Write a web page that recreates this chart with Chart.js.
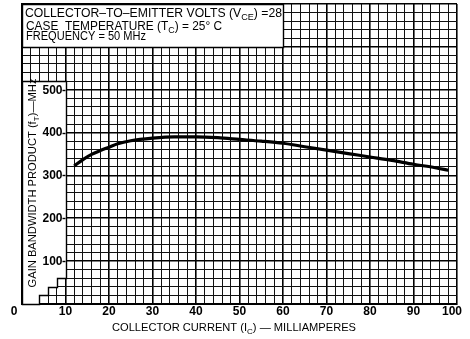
<!DOCTYPE html>
<html><head><meta charset="utf-8">
<script src="https://cdn.jsdelivr.net/npm/chart.js@4/dist/chart.umd.min.js"></script>
<style>html,body{margin:0;padding:0;background:#fff}#wrap{width:470px;height:339px;position:relative}</style>
</head><body><div id="wrap"><canvas id="c"></canvas></div>
<script>
// ---- data ----
const currentMA = [12, 14, 16, 18, 20, 22, 25, 30, 35, 40, 45, 50, 55, 60, 65, 70, 75, 80, 85, 90, 95, 98];
const gainMHz   = [322, 337, 349, 358, 366, 374, 381, 387, 390, 390, 388, 384, 380, 375, 367, 359, 351, 343, 335, 326, 318, 312];
const xTickLabels = ['0', '10', '20', '30', '40', '50', '60', '70', '80', '90', '100'];
const yTickLabels = ['100', '200', '300', '400', '500'];
const boxLines = [
  [{t: 'COLLECTOR–TO–EMITTER VOLTS (V'}, {t: 'CE', sub: true}, {t: ') =28'}],
  [{t: 'CASE  TEMPERATURE (T'}, {t: 'C', sub: true}, {t: ') = 25° C'}],
  [{t: 'FREQUENCY = 50 MHz'}]
];
const xTitle = [{t: 'COLLECTOR CURRENT (I'}, {t: 'C', sub: true}, {t: ') — MILLIAMPERES'}];
const yTitle = [{t: 'GAIN BANDWIDTH PRODUCT (f'}, {t: 'T', sub: true}, {t: ')—MHz'}];

const FONT = "'Liberation Sans', Arial, sans-serif";

function richWidth(ctx, segs, size, weight) {
  let w = 0;
  for (const s of segs) {
    ctx.font = `${weight} ${s.sub ? Math.round(size * 0.75) : size}px ${FONT}`;
    w += ctx.measureText(s.t).width;
  }
  return w;
}
function drawRich(ctx, segs, x, y, size, targetW, align, weight) {
  weight = weight || 'normal';
  const nat = richWidth(ctx, segs, size, weight);
  const sx = targetW ? targetW / nat : 1;
  const w = nat * sx;
  let start = x;
  if (align === 'center') start = x - w / 2;
  ctx.save();
  ctx.translate(start, y);
  ctx.scale(sx, 1);
  ctx.textAlign = 'left';
  ctx.textBaseline = 'alphabetic';
  ctx.fillStyle = '#000';
  let cx = 0;
  for (const s of segs) {
    const fs = s.sub ? Math.round(size * 0.75) : size;
    ctx.font = `${weight} ${fs}px ${FONT}`;
    ctx.fillText(s.t, cx, s.sub ? size * 0.28 : 0);
    cx += ctx.measureText(s.t).width;
  }
  ctx.restore();
}

const decor = {
  id: 'decor',
  beforeDatasetsDraw(chart) {
    const {ctx, scales: {x, y}} = chart;
    const poly = (pts) => {
      ctx.beginPath();
      pts.forEach(([a, b], i) => {
        const px = Math.round(x.getPixelForValue(a)) + 0.5, py = Math.round(y.getPixelForValue(b)) + 0.5;
        i ? ctx.lineTo(px, py) : ctx.moveTo(px, py);
      });
      ctx.closePath();
      ctx.fillStyle = '#fff';
      ctx.fill();
      ctx.strokeStyle = '#000';
      ctx.lineWidth = 1.4;
      ctx.stroke();
    };
    ctx.save();
    // text box (top-left)
    poly([[0, 600], [60, 600], [60, 700], [0, 700]]);
    // y-title strip with staircase
    poly([[0, 520], [10, 520], [10, 60], [8, 60], [8, 40], [6, 40], [6, 20], [4, 20], [4, 0], [0, 0]]);
    ctx.restore();
  },
  afterDraw(chart) {
    const {ctx, scales: {x, y}} = chart;
    ctx.save();
    // box text
    drawRich(ctx, boxLines[0], 25, 17, 12, 257, 'left');
    drawRich(ctx, boxLines[1], 26, 30, 12, 196, 'left');
    drawRich(ctx, boxLines[2], 26, 39.5, 12.5, 120, 'left');
    // y tick labels inside the strip
    const x10 = x.getPixelForValue(10);
    ctx.font = `bold 12px ${FONT}`;
    ctx.textAlign = 'right';
    ctx.textBaseline = 'middle';
    ctx.fillStyle = '#000';
    ctx.strokeStyle = '#000';
    ctx.lineWidth = 1.4;
    for (const lab of yTickLabels) {
      const py = y.getPixelForValue(Number(lab));
      ctx.fillText(lab, x10 - 3, py + 0.5);
      ctx.beginPath();
      ctx.moveTo(x10 - 3, Math.round(py) + 0.5);
      ctx.lineTo(x10, Math.round(py) + 0.5);
      ctx.stroke();
    }
    // x tick labels
    ctx.textAlign = 'center';
    for (const lab of xTickLabels) {
      const v = Number(lab);
      let px = x.getPixelForValue(v);
      if (v === 0) px -= 8;
      if (v === 100) px -= 5;
      ctx.fillText(lab, px, 312);
    }
    // axis titles
    drawRich(ctx, xTitle, 234, 331, 11, 244, 'center');
    ctx.translate(32, 183);
    ctx.rotate(-Math.PI / 2);
    drawRich(ctx, yTitle, 0, 4, 11, 209, 'center');
    ctx.restore();
  }
};

const gridW = (major) => (c) => (c.tick && (c.tick.value % major === 0)) ? 1.6 : 1;
const gridC = (major) => (c) => (c.tick && (c.tick.value % major === 0)) ? '#000' : '#111';

new Chart(document.getElementById('c'), {
  type: 'line',
  data: {
    datasets: [{
      data: currentMA.map((v, i) => ({x: v, y: gainMHz[i]})),
      borderColor: '#000',
      borderWidth: 3.2,
      pointRadius: 0,
      fill: false,
      cubicInterpolationMode: 'monotone'
    }]
  },
  options: {
    responsive: true,
    maintainAspectRatio: false,
    animation: false,
    layout: {padding: {left: 22, right: 13, top: 4, bottom: 35}},
    plugins: {legend: {display: false}, tooltip: {enabled: false}},
    scales: {
      x: {
        type: 'linear', min: 0, max: 100,
        ticks: {display: false, stepSize: 2},
        grid: {drawTicks: false, lineWidth: gridW(10), color: gridC(10)},
        border: {display: true, color: '#000', width: 2}
      },
      y: {
        type: 'linear', min: 0, max: 700,
        ticks: {display: false, stepSize: 20},
        grid: {drawTicks: false, lineWidth: gridW(100), color: gridC(100)},
        border: {display: true, color: '#000', width: 2}
      }
    }
  },
  plugins: [decor]
});
</script>
</body></html>
